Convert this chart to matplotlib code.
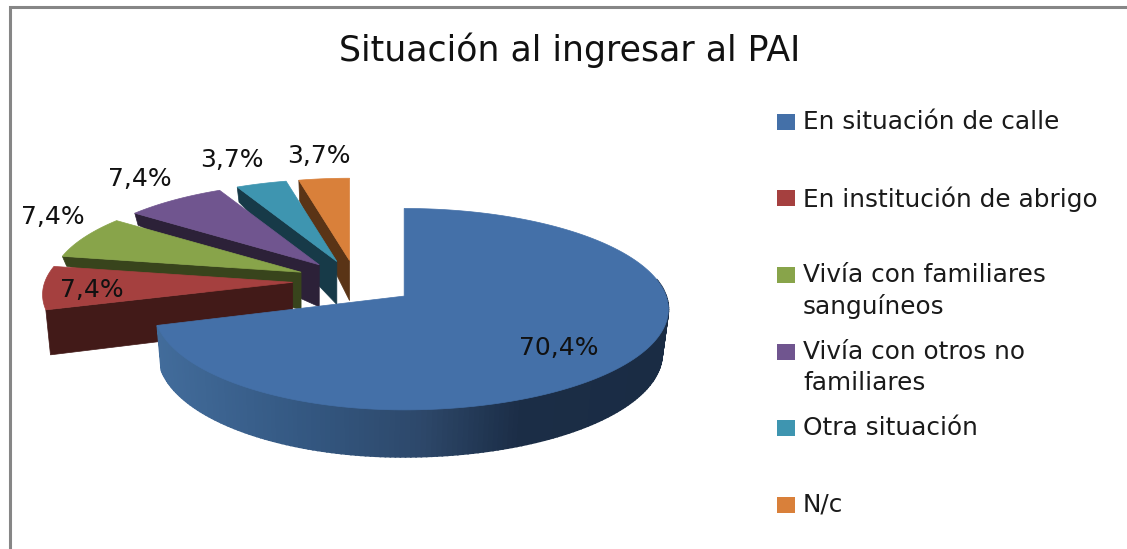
import numpy as np
import matplotlib
matplotlib.use("Agg")
import matplotlib.pyplot as plt
from matplotlib.patches import Polygon, Rectangle

# data
categories = ["En situación de calle", "En institución de abrigo",
              "Vivía con familiares\nsanguíneos", "Vivía con otros no\nfamiliares",
              "Otra situación", "N/c"]
values = [70.4, 7.4, 7.4, 7.4, 3.7, 3.7]
title = "Situación al ingresar al PAI"

# styles
top_colors = ["#4470a8", "#a5403f", "#88a44a", "#70558f", "#3e95b0", "#d9803a"]
wall_colors = ["#1d3350", "#421a18", "#38441c", "#2c2138", "#173a48", "#5a3416"]
label_pos = [(559, 348), (92, 290), (53, 217), (140, 179), (232, 160), (319, 156)]
legend_y = [122, 198, 275, 352, 428, 505]
outer_drop = [42, 45, 10, 12, 15, 21]  # how far each cut wall falls at the rim
apex_drop = [43, 43, 37, 42, 43, 40]

# fake 3d pie geometry, in pixels
cx, cy = 356, 281
rx_left, rx_right = 248, 262
ry_big, ry_small = 99, 93
persp = 0.13
explode = 0.235

fig = plt.figure(figsize=(11.27, 5.49), dpi=100)
ax = fig.add_axes([0, 0, 1, 1])
ax.set_xlim(0, 1127)
ax.set_ylim(549, 0)
ax.axis("off")


def rim(a, deg, ry):
    # a is the apex of the slice, deg runs clockwise from 12 o'clock
    t = np.radians(deg)
    u, v = np.sin(t), np.cos(t)
    s = 1 / (1 + persp * v)
    rx = np.where(u > 0, rx_right, rx_left)
    return a[0] + rx * u * s, a[1] - ry * v * s


edges = np.concatenate([[0], np.cumsum(values)]) / sum(values) * 360
mids = (edges[:-1] + edges[1:]) / 2
apexes = []
for m in mids:
    t = np.radians(m)
    s = 1 / (1 + persp * np.cos(t))
    rx = rx_right * 0.9 if np.sin(t) > 0 else rx_left * 1.08
    apexes.append((cx + explode * rx * np.sin(t) * s, cy - explode * ry_big * np.cos(t) * s))

# small slices first, back to front, so the nearer ones cover the walls behind
for i in [5, 4, 3, 2, 1]:
    a = apexes[i]
    x0, y0 = rim(a, edges[i], ry_small)
    wall = [(x0, y0), a, (a[0], a[1] + apex_drop[i]), (x0 + (cx - x0) * 0.015, y0 + outer_drop[i])]
    ax.add_patch(Polygon(wall, closed=True, fc=wall_colors[i], ec=wall_colors[i], lw=0.5))
    th = np.linspace(edges[i], edges[i + 1], 40)
    xs, ys = rim(a, th, ry_small)
    ax.add_patch(Polygon(np.vstack([[a], np.column_stack([xs, ys])]), closed=True,
                         fc=top_colors[i], ec=top_colors[i], lw=0.5))

# blue slice: the rim wall is drawn in thin bands to get the shading
a = apexes[0]
th = np.linspace(edges[1], 80, 170)
xs, ys = rim(a, th, ry_big)
vs = np.cos(np.radians(th))
xb = cx + (xs - cx) * 0.98
yb = ys + 44 - 3 * vs
stop_x = [157, 300, 420, 520, 665]
stop_rgb = np.array([[66, 108, 155], [52, 88, 130], [45, 72, 106], [27, 45, 70], [26, 44, 68]]) / 255
for k in range(len(th) - 1):
    col = [np.interp(xs[k], stop_x, stop_rgb[:, c]) for c in range(3)]
    band = [(xs[k], ys[k]), (xs[k + 1], ys[k + 1]), (xb[k + 1], yb[k + 1]), (xb[k], yb[k])]
    ax.add_patch(Polygon(band, closed=True, fc=col, ec=col, lw=1.2))

th = np.linspace(edges[0], edges[1], 200)
xs, ys = rim(a, th, ry_big)
ax.add_patch(Polygon(np.vstack([[a], np.column_stack([xs, ys])]), closed=True,
                     fc=top_colors[0], ec=top_colors[0], lw=0.5))

# data labels
for v, (x, y) in zip(values, label_pos):
    ax.text(x, y, f"{v:.1f}%".replace(".", ","), ha="center", va="center",
            fontsize=18, color="#111111")

# title and legend
ax.text(570, 50, title, ha="center", va="center", fontsize=25, color="#111111")
for name, col, y in zip(categories, top_colors, legend_y):
    ax.add_patch(Rectangle((777, y - 8), 18, 16, fc=col, ec="none"))
    ax.text(803, y - 12, name, ha="left", va="top", fontsize=17.8, color="#1a1a1a", linespacing=1.37)

# chart frame, only top and left are inside the crop
ax.plot([9.5, 9.5, 1127], [549, 7, 7], color="#868686", lw=2.2, solid_joinstyle="miter")

fig.savefig("out.png", dpi=100, facecolor="white")
